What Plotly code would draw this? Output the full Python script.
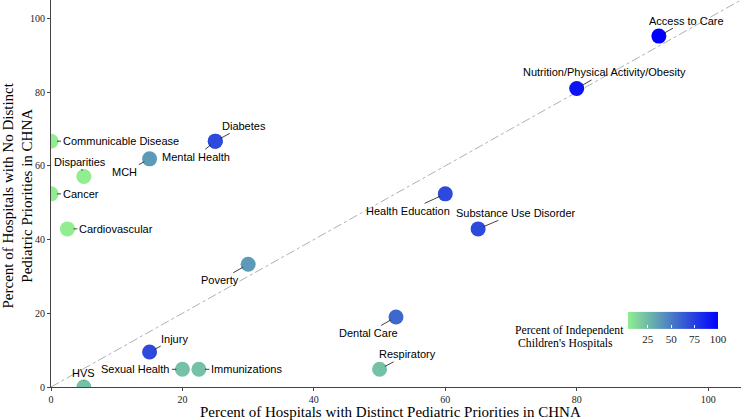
import plotly.graph_objects as go

# ---------------- data ----------------
topics = [
    "Access to Care", "Nutrition/Physical Activity/Obesity", "Health Education",
    "Substance Use Disorder", "Diabetes", "Mental Health", "MCH", "Poverty",
    "Dental Care", "Respiratory", "Immunizations", "Sexual Health", "Injury",
    "HVS", "Communicable Disease", "Disparities", "Cancer", "Cardiovascular",
]
pct_distinct = [92.5, 80.0, 60.0, 65.0, 25.0, 25.0, 15.0, 30.0,
                52.5, 50.0, 22.5, 20.0, 15.0, 5.0, 0.0, 5.0, 0.0, 2.5]
pct_no_distinct = [95.2, 81.0, 52.4, 42.9, 66.7, 66.7, 61.9, 33.3,
                   19.0, 4.8, 4.8, 4.8, 9.5, 0.0, 66.7, 57.1, 52.4, 42.9]
pct_independent = [100, 92, 70, 70, 70, 70, 38, 38,
                   58, 22, 22, 22, 70, 22, 4, 4, 4, 4]
colorbar_ticks = [25, 50, 75, 100]
identity_line = [0, 105]
legend_title_lines = ["Percent of Independent", "Children's Hospitals"]

# ---------------- style ----------------
# label offsets (pixels) of each text label from its point
LABEL_OFFSETS = {
    "Access to Care": (27.5, -15.5),
    "Nutrition/Physical Activity/Obesity": (28, -16),
    "Health Education": (-37, 17),
    "Substance Use Disorder": (38, -16),
    "Diabetes": (28.4, -15.3),
    "Mental Health": (-19.3, 15.7),
    "MCH": (-24.6, 13.3),
    "Poverty": (-28, 16),
    "Dental Care": (-28, 16),
    "Respiratory": (28, -15),
    "Immunizations": (47.5, 0),
    "Sexual Health": (-46.5, 0),
    "Injury": (25.3, -13.4),
    "HVS": (0, -14),
    "Communicable Disease": (69.5, 0),
    "Disparities": (-4.3, -15),
    "Cancer": (29.5, 0),
    "Cardiovascular": (48.4, 0),
}
# pixel positions (left x, centre y) of the two legend-title lines
LEGEND_TITLE_POS = [(513, 330), (516, 343)]

SERIF = "Liberation Serif, Times New Roman, serif"
SANS = "Liberation Sans, Arial, sans-serif"
colorscale = [[0, "#90EE90"], [1, "#0000FF"]]

PL, PB, PW, PH = 51, 387, 690, 387  # plot-area left, bottom, width, height (px)


def px_to_paper(px, py):
    return (px - PL) / PW, (PB - py) / PH


# ---------------- figure ----------------
fig = go.Figure()

fig.add_trace(go.Scatter(
    x=identity_line, y=identity_line, mode="lines",
    line=dict(color="#b0b0b0", width=1, dash="dashdot"),
    hoverinfo="skip", showlegend=False,
))

cbx, cby = px_to_paper(628, 329.5)
fig.add_trace(go.Scatter(
    x=pct_distinct, y=pct_no_distinct, mode="markers", text=topics,
    marker=dict(
        size=15, color=pct_independent, colorscale=colorscale,
        cmin=min(pct_independent), cmax=max(pct_independent),
        line=dict(width=0), opacity=1,
        colorbar=dict(
            orientation="h", thickness=17, len=90, lenmode="pixels",
            x=cbx, xanchor="left", y=cby, yanchor="middle",
            xpad=0, ypad=0, outlinewidth=0,
            tickvals=colorbar_ticks, ticks="inside", ticklen=3, tickcolor="white",
            tickfont=dict(family=SERIF, size=11, color="#222"),
        ),
    ),
    showlegend=False,
))

annotations = []
for t, xv, yv in zip(topics, pct_distinct, pct_no_distinct):
    ax, ay = LABEL_OFFSETS[t]
    annotations.append(dict(
        x=xv, y=yv, xref="x", yref="y", text=t, showarrow=True,
        ax=ax, ay=ay, arrowhead=0, arrowwidth=0.8, arrowcolor="#111",
        standoff=6, startstandoff=0,
        font=dict(family=SANS, size=11, color="#000"),
    ))

tx, ty = px_to_paper(390.5, 412)
annotations.append(dict(
    text="Percent of Hospitals with Distinct Pediatric Priorities in CHNA",
    xref="paper", yref="paper", x=tx, y=ty,
    showarrow=False, xanchor="center", yanchor="middle",
    font=dict(family=SERIF, size=15, color="#000")))
tx, ty = px_to_paper(17.5, 196)
annotations.append(dict(
    text="Percent of Hospitals with No Distinct<br>Pediatric Priorities in CHNA",
    xref="paper", yref="paper", x=tx, y=ty,
    textangle=-90, showarrow=False, xanchor="center", yanchor="middle",
    font=dict(family=SERIF, size=15, color="#000")))
for line, (lx, ly) in zip(legend_title_lines, LEGEND_TITLE_POS):
    tx, ty = px_to_paper(lx, ly)
    annotations.append(dict(
        text=line, xref="paper", yref="paper", x=tx, y=ty,
        showarrow=False, xanchor="left", yanchor="middle",
        font=dict(family=SERIF, size=11.7, color="#000")))

axis_common = dict(
    showgrid=False, zeroline=False, showline=True, linecolor="#444", linewidth=1,
    ticks="outside", ticklen=3, tickcolor="#444", tickwidth=1,
    tickfont=dict(family=SERIF, size=10, color="#222"),
    tickvals=[0, 20, 40, 60, 80, 100], range=[0, 105],
)

fig.update_layout(
    width=741, height=420,
    margin=dict(l=PL, r=741 - PL - PW, t=420 - PB - 33 - 0, b=33, autoexpand=False),
    paper_bgcolor="white", plot_bgcolor="white",
    xaxis=dict(**axis_common),
    yaxis=dict(**axis_common),
    annotations=annotations,
    hovermode=False,
)

fig.write_html("out.html", config={"displayModeBar": False},
               post_script="document.body.style.margin='0px';")
